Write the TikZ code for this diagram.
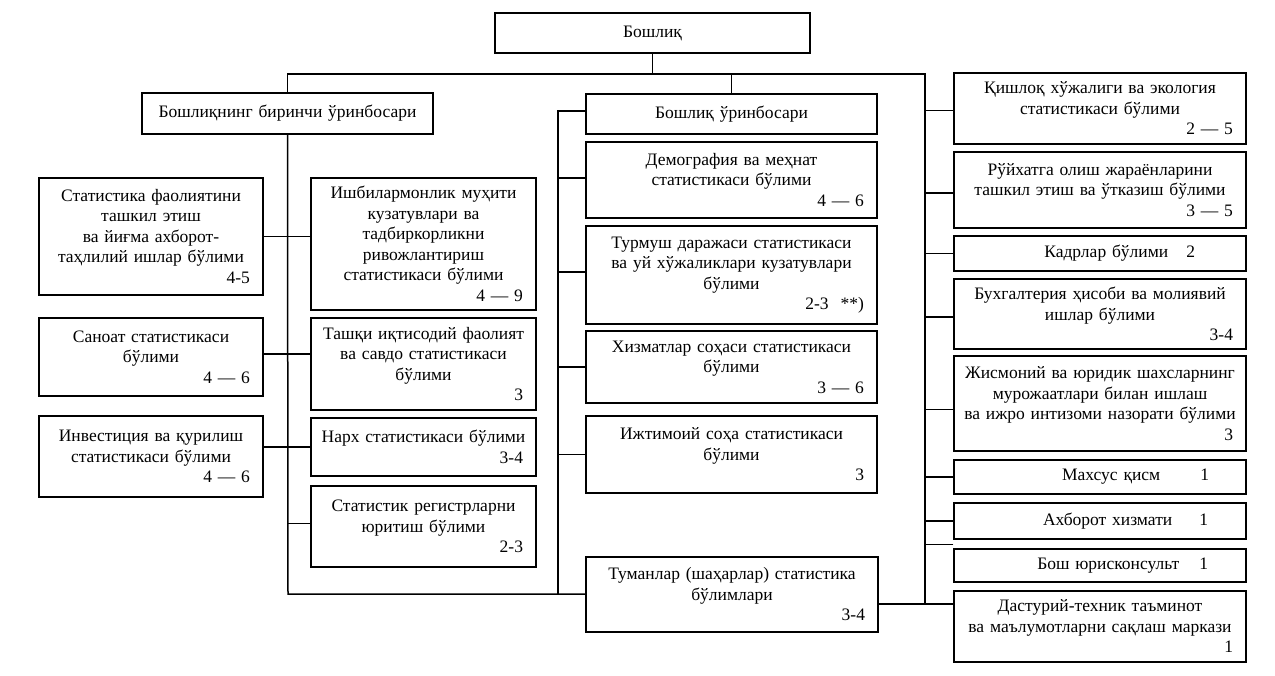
\documentclass[tikz,border=0pt]{standalone}
\usepackage{fontspec}
\setmainfont{Liberation Serif}
\newcommand\rnum[1]{\\\hspace*{\fill}#1\kern7pt}
\begin{document}
\begin{tikzpicture}[x=1pt,y=-1pt,
  box/.style={draw, line width=1.5pt, inner xsep=6pt, inner ysep=0pt, align=center,
    font=\fontsize{17.5}{20.5}\selectfont},
  wh/.style n args={3}{minimum width=#1pt, minimum height=#2pt, text width=#3pt},
  conn/.style={line width=1.5pt}]
\useasboundingbox (0,0) rectangle (1275,676);
\fill[white] (0,0) rectangle (1275,676);

% top level
\node[box, wh={315}{40}{303}] (boss) at (652.5,33) {Бошлиқ};
\node[box, wh={291}{41}{279}] (dep1) at (287.5,113.5) {Бошлиқнинг биринчи ўринбосари};
\node[box, wh={291}{40}{279}] (dep2) at (731.5,114) {Бошлиқ ўринбосари};

% left column
\node[box, wh={224}{117}{212}] (stat) at (151,236.5)
  {Статистика фаолиятини\\ташкил этиш\\ва йиғма ахборот-\\таҳлилий ишлар бўлими\rnum{4-5}};
\node[box, wh={224}{78}{212}] (sanoat) at (151,357)
  {Саноат статистикаси\\бўлими\rnum{4 — 6}};
\node[box, wh={224}{81}{212}] (invest) at (151,456.5)
  {Инвестиция ва қурилиш\\статистикаси бўлими\rnum{4 — 6}};

% second column
\node[box, wh={225}{132}{213}] (ishbil) at (423.5,244)
  {Ишбилармонлик муҳити\\кузатувлари ва\\тадбиркорликни\\ривожлантириш\\статистикаси бўлими\rnum{4 — 9}};
\node[box, wh={225}{92}{213}] (tashqi) at (423.5,364)
  {Ташқи иқтисодий фаолият\\ва савдо статистикаси\\бўлими\rnum{3}};
\node[box, wh={225}{58}{213}] (narx) at (423.5,447)
  {Нарх статистикаси бўлими\rnum{3-4}};
\node[box, wh={225}{81}{213}] (reg) at (423.5,526.5)
  {Статистик регистрларни\\юритиш бўлими\rnum{2-3}};

% middle column
\node[box, wh={291}{76}{279}] (demo) at (731.5,180)
  {Демография ва меҳнат\\статистикаси бўлими\rnum{4 — 6}};
\node[box, wh={291}{98}{279}] (turmush) at (731.5,275)
  {Турмуш даражаси статистикаси\\ва уй хўжаликлари кузатувлари\\бўлими\rnum{2-3\hspace{12pt}**)}};
\node[box, wh={291}{72}{279}] (xizmat) at (731.5,367)
  {Хизматлар соҳаси статистикаси\\бўлими\rnum{3 — 6}};
\node[box, wh={291}{77}{279}] (ijtimoiy) at (731.5,454.5)
  {Ижтимоий соҳа статистикаси\\бўлими\rnum{3}};
\node[box, wh={292}{75}{280}] (tuman) at (732,594.5)
  {Туманлар (шаҳарлар) статистика\\бўлимлари\rnum{3-4}};

% right column
\node[box, wh={292}{71}{280}] (qishloq) at (1100,108.5)
  {Қишлоқ хўжалиги ва экология\\статистикаси бўлими\rnum{2 — 5}};
\node[box, wh={292}{76}{280}] (royxat) at (1100,190)
  {Рўйхатга олиш жараёнларини\\ташкил этиш ва ўтказиш бўлими\rnum{3 — 5}};
\node[box, wh={292}{35}{280}] (kadr) at (1100,253.5)
  {\hspace*{\fill}Кадрлар бўлими\hspace{18pt}2\kern45pt};
\node[box, wh={292}{70}{280}] (buxg) at (1100,314)
  {Бухгалтерия ҳисоби ва молиявий\\ишлар бўлими\rnum{3-4}};
\node[box, wh={292}{95}{280}] (jism) at (1100,403.5)
  {Жисмоний ва юридик шахсларнинг\\мурожаатлари билан ишлаш\\ва ижро интизоми назорати бўлими\rnum{3}};
\node[box, wh={292}{34}{280}] (maxsus) at (1100,477)
  {\hspace*{\fill}Махсус қисм\hspace{40pt}1\kern31pt};
\node[box, wh={292}{36}{280}] (axborot) at (1100,521)
  {\hspace*{\fill}Ахборот хизмати\hspace{27pt}1\kern32pt};
\node[box, wh={292}{33}{280}] (bosh) at (1100,565.5)
  {\hspace*{\fill}Бош юрисконсульт\hspace{20pt}1\kern32pt};
\node[box, wh={292}{71}{280}] (dastur) at (1100,626.5)
  {Дастурий-техник таъминот\\ва маълумотларни сақлаш маркази\rnum{1}};

% junction coordinates
\coordinate (rtop) at (925,74);
\coordinate (rbot) at (925,604);
\coordinate (lbot) at (288,594);
\coordinate (mbot) at (558,594);

% top connectors
\draw[conn] (boss.south) -- (boss.south |- rtop);
\draw[conn] (dep1.north) |- (rtop) -- (rbot);
\draw[conn] (dep2.north) -- (dep2.north |- rtop);

% left trunk
\draw[conn] (dep1.south) -- (lbot) -- (tuman.west |- lbot);
\draw[conn] (stat.east) -- (stat.east -| ishbil.west);
\draw[conn] ([yshift=3pt]sanoat.east) -- ([yshift=3pt]sanoat.east -| tashqi.west);
\draw[conn] (narx.west) -- (narx.west -| invest.east);
\draw[conn] ([yshift=3pt]reg.west) -- ([yshift=3pt]reg.west -| lbot);

% middle trunk
\draw[conn] ([yshift=3pt]dep2.west) -| (mbot);
\draw[conn] ([yshift=2pt]demo.west) -- ([yshift=2pt]demo.west -| mbot);
\draw[conn] ([yshift=3pt]turmush.west) -- ([yshift=3pt]turmush.west -| mbot);
\draw[conn] (xizmat.west) -- (xizmat.west -| mbot);
\draw[conn] (ijtimoiy.west) -- (ijtimoiy.west -| mbot);

% right trunk
\draw[conn] ([yshift=-2pt]qishloq.west) -- ([yshift=-2pt]qishloq.west -| rtop);
\draw[conn] ([yshift=-3pt]royxat.west) -- ([yshift=-3pt]royxat.west -| rtop);
\draw[conn] (kadr.west) -- (kadr.west -| rtop);
\draw[conn] ([yshift=-3pt]buxg.west) -- ([yshift=-3pt]buxg.west -| rtop);
\draw[conn] ([yshift=-6pt]jism.west) -- ([yshift=-6pt]jism.west -| rtop);
\draw[conn] (maxsus.west) -- (maxsus.west -| rtop);
\draw[conn] (axborot.west) -- (axborot.west -| rtop);
\draw[conn] ([yshift=4pt]bosh.north west) -- ([yshift=4pt]bosh.north west -| rtop);
\draw[conn] (tuman.east |- rbot) -- (rbot) -- (rbot -| dastur.west);
\end{tikzpicture}
\end{document}
